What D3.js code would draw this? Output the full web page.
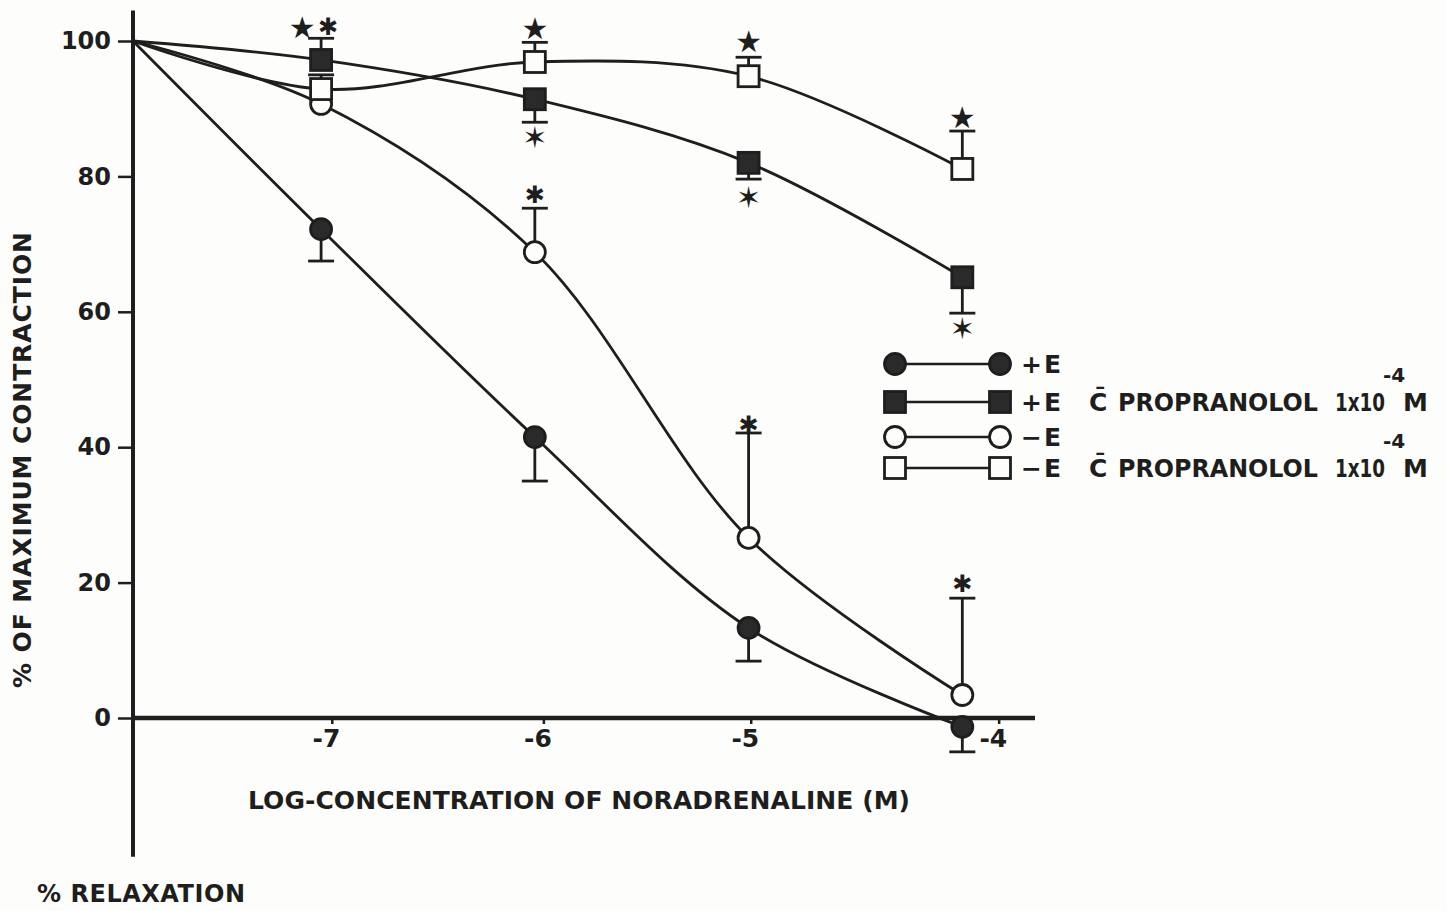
<!DOCTYPE html>
<html>
<head>
<meta charset="utf-8">
<script src="https://cdn.jsdelivr.net/npm/d3@7"></script>
<style>
  html, body { margin: 0; padding: 0; background: #fdfdfb; }
  svg { display: block; }
  text { font-family: "DejaVu Sans", sans-serif; font-weight: bold; fill: #1e1e1e; }
</style>
</head>
<body>
<svg id="chart" width="1447" height="911"></svg>
<script>
// log concentrations of noradrenaline (M)
const conc = [-7, -6, -5, -4];
const startConc = -7.88; // every curve starts at 100 % on the y axis

// % of maximum contraction
const plusE = [72.2, 41.5, 13.3, -1.3];
const plusEErr = [4.7, 6.5, 4.9, 3.7];
const plusEErrDir = [-1, -1, -1, -1];

const plusEProp = [97.2, 91.4, 82.0, 65.1];
const plusEPropErr = [3.2, 3.4, 2.4, 5.3];
const plusEPropErrDir = [1, -1, -1, -1];

const minusE = [90.7, 68.8, 26.6, 3.4];
const minusEErr = [0, 6.5, 15.5, 14.3];
const minusEErrDir = [1, 1, 1, 1];

const minusEProp = [92.9, 96.9, 94.8, 81.1];
const minusEPropErr = [2.1, 2.9, 2.8, 5.6];
const minusEPropErrDir = [1, 1, 1, 1];

// significance marks: [conc, value, glyph, dx]
const stars = [
  [-7, 102.1, '\u2605', -19], [-7, 102.1, '\u2731', 7],
  [-6, 101.9, '\u2605', 0], [-6, 85.8, '\u2736', 0], [-6, 77.3, '\u2731', 0],
  [-5, 99.9, '\u2605', 0], [-5, 77.0, '\u2736', 0], [-5, 43.3, '\u2731', 0],
  [-4, 88.8, '\u2605', 0], [-4, 57.6, '\u2736', 0], [-4, 19.9, '\u2731', 0]
];

const yTicks = [0, 20, 40, 60, 80, 100];
// hand-drawn x tick marks sit a little off the data columns
const xTickPos = [-6.95, -5.96, -4.99, -3.83];
const xTickLabels = ['-7', '-6', '-5', '-4'];

const legendLabels = ['+E', '+E', '\u2212E', '\u2212E'];
const legendPropranolol = [false, true, false, true];

const ink = '#1e1e1e';
const svg = d3.select('#chart');

const x = d3.scaleLinear().domain([startConc, -3.66]).range([133, 1035]);
const y = d3.scaleLinear().domain([0, 100]).range([718, 41]);

// axes
svg.append('line')
  .attr('x1', x(startConc)).attr('x2', x(startConc))
  .attr('y1', y(104.5)).attr('y2', y(-20.5))
  .attr('stroke', ink).attr('stroke-width', 4);

svg.append('line')
  .attr('x1', x(startConc)).attr('x2', x(-3.66))
  .attr('y1', y(0)).attr('y2', y(0))
  .attr('stroke', ink).attr('stroke-width', 4.5);

const yAxis = svg.append('g')
  .attr('transform', `translate(${x(startConc)},0)`)
  .call(d3.axisLeft(y).tickValues(yTicks).tickSize(15).tickPadding(7));
yAxis.select('.domain').remove();
yAxis.selectAll('line').attr('stroke', ink).attr('stroke-width', 2.5);
yAxis.selectAll('text').attr('font-size', 24).attr('fill', ink)
  .style('font-family', '"DejaVu Sans", sans-serif').style('font-weight', 'bold');

const xAxis = svg.append('g')
  .attr('transform', `translate(0,${y(0)})`)
  .call(d3.axisBottom(x).tickValues(xTickPos).tickFormat((d, i) => xTickLabels[i]).tickSize(6).tickPadding(5));
xAxis.select('.domain').remove();
xAxis.selectAll('line').attr('stroke', ink).attr('stroke-width', 2.5);
xAxis.selectAll('text').attr('font-size', 25).attr('fill', ink)
  .attr('text-anchor', 'end').attr('dx', 8)
  .style('font-family', '"DejaVu Sans", sans-serif').style('font-weight', 'bold');

// axis titles
svg.append('text')
  .attr('transform', 'translate(31,460) rotate(-90)')
  .attr('text-anchor', 'middle')
  .attr('font-size', 25)
  .attr('textLength', 456).attr('lengthAdjust', 'spacing')
  .text('% OF MAXIMUM CONTRACTION');

svg.append('text')
  .attr('x', 248).attr('y', 809)
  .attr('font-size', 25)
  .attr('textLength', 662).attr('lengthAdjust', 'spacing')
  .text('LOG-CONCENTRATION OF NORADRENALINE (M)');

svg.append('text')
  .attr('x', 37).attr('y', 902)
  .attr('font-size', 24)
  .attr('textLength', 208).attr('lengthAdjust', 'spacing')
  .text('% RELAXATION');

// series
const series = [
  { vals: plusE, err: plusEErr, dir: plusEErrDir, shape: 'circle', filled: true },
  { vals: plusEProp, err: plusEPropErr, dir: plusEPropErrDir, shape: 'square', filled: true },
  { vals: minusE, err: minusEErr, dir: minusEErrDir, shape: 'circle', filled: false },
  { vals: minusEProp, err: minusEPropErr, dir: minusEPropErrDir, shape: 'square', filled: false }
];

const line = d3.line()
  .x(d => x(d[0]))
  .y(d => y(d[1]))
  .curve(d3.curveCatmullRom.alpha(0.5));

series.forEach(s => {
  const pts = [[startConc, 100]].concat(conc.map((c, i) => [c, s.vals[i]]));
  svg.append('path')
    .attr('d', line(pts))
    .attr('fill', 'none')
    .attr('stroke', ink)
    .attr('stroke-width', 2.8);
});

// error bars
series.forEach(s => {
  const g = svg.append('g').attr('stroke', ink).attr('stroke-width', 2.8);
  conc.forEach((c, i) => {
    if (!s.err[i]) return;
    const end = s.vals[i] + s.dir[i] * s.err[i];
    g.append('line')
      .attr('x1', x(c)).attr('x2', x(c))
      .attr('y1', y(s.vals[i])).attr('y2', y(end));
    g.append('line')
      .attr('x1', x(c) - 13).attr('x2', x(c) + 13)
      .attr('y1', y(end)).attr('y2', y(end));
  });
});

function drawMarker(g, shape, filled, cx, cy) {
  if (shape === 'circle') {
    g.append('circle')
      .attr('cx', cx).attr('cy', cy).attr('r', 10.5)
      .attr('fill', filled ? '#2a2a2a' : '#fdfdfb')
      .attr('stroke', ink).attr('stroke-width', 2.8);
  } else {
    g.append('rect')
      .attr('x', cx - 10.5).attr('y', cy - 10.5)
      .attr('width', 21).attr('height', 21)
      .attr('fill', filled ? '#2a2a2a' : '#fdfdfb')
      .attr('stroke', ink).attr('stroke-width', 2.8);
  }
}

series.forEach(s => {
  const g = svg.append('g');
  conc.forEach((c, i) => drawMarker(g, s.shape, s.filled, x(c), y(s.vals[i])));
});

// significance stars
svg.append('g')
  .selectAll('text')
  .data(stars)
  .join('text')
  .attr('x', d => x(d[0]) + d[3])
  .attr('y', d => y(d[1]))
  .attr('dy', '0.36em')
  .attr('text-anchor', 'middle')
  .attr('font-size', d => d[2] === '\u2731' ? 24 : 30)
  .text(d => d[2]);

// legend
const legendY = [364, 402, 437, 468];
const legend = svg.append('g');
series.forEach((s, i) => {
  const ly = legendY[i];
  legend.append('line')
    .attr('x1', 895).attr('x2', 1000)
    .attr('y1', ly).attr('y2', ly)
    .attr('stroke', ink).attr('stroke-width', 2.4);
  drawMarker(legend, s.shape, s.filled, 895, ly);
  drawMarker(legend, s.shape, s.filled, 1000, ly);
  legend.append('text')
    .attr('x', 1021).attr('y', ly + 9)
    .attr('font-size', 25)
    .attr('letter-spacing', 2)
    .text(legendLabels[i]);
  if (legendPropranolol[i]) {
    legend.append('text')
      .attr('x', 1089).attr('y', ly + 9)
      .attr('font-size', 25)
      .text('C\u0304');
    legend.append('text')
      .attr('x', 1118).attr('y', ly + 9)
      .attr('font-size', 25)
      .attr('textLength', 200).attr('lengthAdjust', 'spacingAndGlyphs')
      .text('PROPRANOLOL');
    legend.append('text')
      .attr('x', 1335).attr('y', ly + 9)
      .attr('font-size', 25)
      .attr('textLength', 50).attr('lengthAdjust', 'spacingAndGlyphs')
      .text('1x10');
    legend.append('text')
      .attr('x', 1383).attr('y', ly - 20)
      .attr('font-size', 20)
      .text('-4');
    legend.append('text')
      .attr('x', 1403).attr('y', ly + 9)
      .attr('font-size', 25)
      .text('M');
  }
});
</script>
</body>
</html>
